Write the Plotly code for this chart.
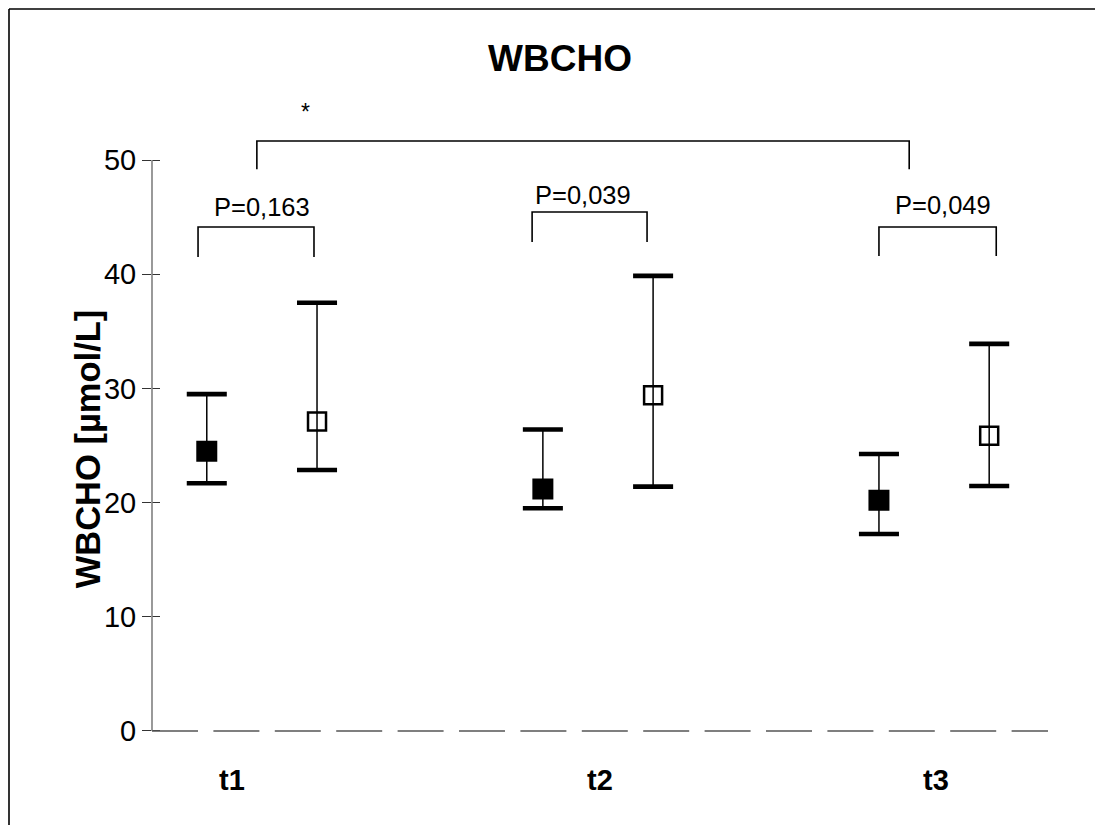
import plotly.graph_objects as go

# ---------------- data ----------------
groups = ["t1", "t2", "t3"]
filled_mean = [24.5, 21.2, 20.2]
filled_upper = [29.5, 26.4, 24.25]
filled_lower = [21.7, 19.5, 17.25]
open_mean = [27.1, 29.4, 25.85]
open_upper = [37.5, 39.85, 33.9]
open_lower = [22.85, 21.4, 21.45]
p_labels = ["P=0,163", "P=0,039", "P=0,049"]
overall_label = "*"
y_ticks = [0, 10, 20, 30, 40, 50]

# ---------------- layout geometry (positions, not data) ----------------
OFF = 0.164
gx = list(range(len(groups)))
xf = [g - OFF for g in gx]
xo = [g + OFF for g in gx]
label_x = [-0.089, 1.006, 2.006]
br_left = [-0.190, 0.804, 1.836]
br_right = [0.155, 1.146, 2.185]
br_top = [44.13, 45.45, 44.13]
br_bot = [41.5, 42.82, 41.6]
p_x = [0.0, 0.955, 2.027]
p_y = [45.9, 46.9, 46.06]

FONT = "Liberation Sans, Arial, sans-serif"
XR = [-0.327, 2.339]
YR = [-2.54, 56.13]
W, H = 1091, 821
ML, MT = 144, 82
PW, PH = 896, 670
MR, MB = W - ML - PW, H - MT - PH

fig = go.Figure()


def add_series(x, mean, lo, hi, filled):
    fig.add_trace(go.Scatter(
        x=x, y=mean, mode="markers", showlegend=False, hoverinfo="skip",
        error_y=dict(type="data", symmetric=False,
                     array=[h - m for h, m in zip(hi, mean)],
                     arrayminus=[m - l for m, l in zip(mean, lo)],
                     width=0, thickness=1.5, color="black"),
        marker=dict(size=0.1, color="rgba(0,0,0,0)")))
    fig.add_trace(go.Scatter(
        x=list(x) + list(x), y=list(hi) + list(lo), mode="markers",
        showlegend=False, hoverinfo="skip",
        marker=dict(symbol="line-ew", size=28.6, color="black",
                    line=dict(width=4.6, color="black"))))
    if filled:
        fig.add_trace(go.Scatter(
            x=x, y=mean, mode="markers", showlegend=False,
            marker=dict(symbol="square", size=19, color="black",
                        line=dict(width=2, color="black"))))
    else:
        fig.add_trace(go.Scatter(
            x=x, y=mean, mode="markers", showlegend=False,
            marker=dict(symbol="square-open", size=18, color="black",
                        line=dict(width=2.5, color="black"))))


add_series(xf, filled_mean, filled_lower, filled_upper, True)
add_series(xo, open_mean, open_lower, open_upper, False)

# invisible trace on y2 to get the inner ticks drawn
fig.add_trace(go.Scatter(x=[XR[0]], y=[0], yaxis="y2", mode="markers",
                         marker=dict(color="rgba(0,0,0,0)"),
                         showlegend=False, hoverinfo="skip"))

shapes = []
# y-axis line from 0 to 50
shapes.append(dict(type="line", xref="paper", yref="y", x0=0, x1=0,
                   y0=y_ticks[0], y1=y_ticks[-1],
                   line=dict(color="#808080", width=1.6)))
# dashed baseline at 0
shapes.append(dict(type="line", xref="paper", yref="y", x0=0, x1=1,
                   y0=0, y1=0,
                   line=dict(color="#555555", width=1.5, dash="46px,15.4px")))
# group brackets
for i in range(len(groups)):
    shapes.append(dict(type="path", xref="x", yref="y",
                       path=f"M {br_left[i]},{br_bot[i]} L {br_left[i]},{br_top[i]} "
                            f"L {br_right[i]},{br_top[i]} L {br_right[i]},{br_bot[i]}",
                       line=dict(color="black", width=1.6)))
# overall bracket
shapes.append(dict(type="path", xref="x", yref="y",
                   path="M -0.015,49.2 L -0.015,51.66 L 1.926,51.66 L 1.926,49.2",
                   line=dict(color="black", width=1.6)))
# outer frame: top and left edges only, kept strictly inside the figure
bx = (1.0 - ML) / PW
by = 1 + (MT - 1.0) / PH
ex = (W - 4 - ML) / PW
ey = -(MB - 4) / PH
shapes.append(dict(type="line", xref="paper", yref="paper",
                   x0=bx, x1=ex, y0=by, y1=by,
                   line=dict(color="black", width=1.6)))
shapes.append(dict(type="line", xref="paper", yref="paper",
                   x0=bx, x1=bx, y0=by, y1=ey,
                   line=dict(color="black", width=1.6)))

annotations = []
for i in range(len(groups)):
    annotations.append(dict(x=p_x[i], y=p_y[i], xref="x", yref="y",
                            text=p_labels[i], showarrow=False,
                            font=dict(family=FONT, size=25.5, color="black"),
                            xanchor="center", yanchor="middle"))
    annotations.append(dict(x=label_x[i], y=-0.03, xref="x", yref="paper",
                            text=f"<b>{groups[i]}</b>", showarrow=False,
                            font=dict(family=FONT, size=29, color="black"),
                            xanchor="center", yanchor="middle"))
annotations.append(dict(x=0.131, y=54.2, xref="x", yref="y",
                        text=overall_label, showarrow=False,
                        font=dict(family=FONT, size=23, color="black"),
                        xanchor="center", yanchor="middle"))
annotations.append(dict(x=-0.0705, y=0.4650, xref="paper", yref="paper",
                        text="<b>WBCHO [µmol/L]</b>", textangle=-90,
                        showarrow=False,
                        font=dict(family=FONT, size=34.5, color="black"),
                        xanchor="center", yanchor="middle"))

fig.update_layout(
    width=W, height=H,
    margin=dict(l=ML, r=MR, t=MT, b=MB),
    paper_bgcolor="white", plot_bgcolor="white",
    title=dict(text="<b>WBCHO</b>", x=552 / W, y=1 - 50 / H,
               xanchor="center", yanchor="middle", xref="container",
               yref="container",
               font=dict(family=FONT, size=37, color="black")),
    xaxis=dict(range=XR, showgrid=False, zeroline=False, showline=False,
               showticklabels=False, ticks=""),
    yaxis=dict(range=YR, showgrid=False, zeroline=False, showline=False,
               tickvals=y_ticks, ticks="outside", ticklen=9, tickwidth=1.2,
               tickcolor="#333333",
               tickfont=dict(family=FONT, size=29, color="black")),
    yaxis2=dict(range=YR, overlaying="y", side="left", anchor="x",
                showgrid=False, zeroline=False, showline=False,
                tickvals=y_ticks, ticks="inside", ticklen=8, tickwidth=1.2,
                tickcolor="#333333", showticklabels=False),
    shapes=shapes, annotations=annotations, showlegend=False,
)

fig.write_html("out.html")
